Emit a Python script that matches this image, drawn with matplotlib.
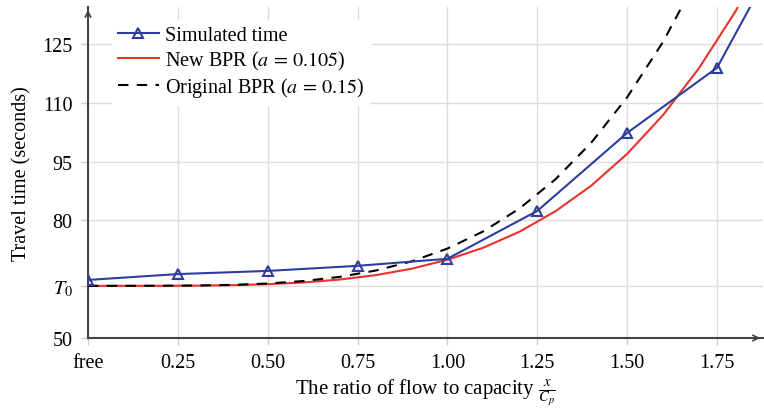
import matplotlib
matplotlib.use("Agg")
import matplotlib.pyplot as plt

plt.rcParams['font.family'] = ['Liberation Serif', 'DejaVu Serif']
plt.rcParams['mathtext.fontset'] = 'stix'

T0 = 63.3
# x ticks and labels
xticks = [0, 0.25, 0.5, 0.75, 1.0, 1.25, 1.5, 1.75]
xticklabels = ['free', '0.25', '0.50', '0.75', '1.00', '1.25', '1.50', '1.75']
yticks = [50, T0, 80, 95, 110, 125]
yticklabels = ['50', r'$T_0$', '80', '95', '110', '125']

# Simulated time
sim_x = [0, 0.25, 0.5, 0.75, 1.0, 1.25, 1.5, 1.75, 2.0]
sim_y = [64.8, 66.3, 67.1, 68.4, 70.2, 82.4, 102.3, 118.9, 161.0]

# New BPR (a = 0.105)
bpr_x = [0, 0.1, 0.2, 0.3, 0.4, 0.5, 0.6, 0.7, 0.8, 0.9, 1.0,
         1.1, 1.2, 1.3, 1.4, 1.5, 1.6, 1.7, 1.8, 1.9]
new_y = [63.3, 63.3, 63.31, 63.35, 63.47, 63.72, 64.16, 64.90, 66.02, 67.66, 69.95,
         73.03, 77.08, 82.28, 88.83, 96.95, 106.86, 118.81, 133.07, 149.92]

# Original BPR (a = 0.15)
orig_x = [0, 0.1, 0.2, 0.3, 0.4, 0.5, 0.6, 0.7, 0.8, 0.9, 1.0,
          1.1, 1.2, 1.3, 1.4, 1.5, 1.6, 1.7]
orig_y = [63.3, 63.3, 63.32, 63.38, 63.54, 63.89, 64.53, 65.58, 67.19, 69.53, 72.80,
          77.20, 82.99, 90.42, 99.78, 111.37, 125.53, 142.60]

fig = plt.figure(figsize=(7.64, 4.10), dpi=100)
ax = fig.add_axes([88/764, 1 - 339/410, (763 - 88)/764, (339 - 8)/410])

blue = '#2e3c9e'
red = '#e8322b'

ax.plot(sim_x, sim_y, color=blue, lw=1.5, marker='^', ms=7, mfc='none',
        mec=blue, mew=1.5, label='Simulated time', zorder=4)
ax.plot(bpr_x, new_y, color=red, lw=1.5, label=r'New BPR ($a\,=\,0.105$)', zorder=3)
ax.plot(orig_x, orig_y, color='black', lw=1.5, ls=(0, (5, 4)), label=r'Original BPR ($a\,=\,0.15$)', zorder=3)

ax.set_xlim(0, 1.878)
ax.set_ylim(50, 134.4)
ax.set_xticks(xticks)
ax.set_xticklabels(xticklabels)
ax.set_yticks(yticks)
ax.set_yticklabels(yticklabels)
ax.tick_params(axis='both', labelsize=14.5, color='#cccccc', length=5, width=1, pad=6)
ax.grid(True, color='#dddddd', lw=1)
ax.set_axisbelow(True)

for s in ['top', 'right']:
    ax.spines[s].set_visible(False)
for s in ['left', 'bottom']:
    ax.spines[s].set_color('#444444')
    ax.spines[s].set_linewidth(1.5)

# arrows at axis ends
ax.annotate('', xy=(1.0, 0), xytext=(0.99, 0), xycoords='axes fraction',
            arrowprops=dict(arrowstyle='->', color='#444444', lw=1.2), annotation_clip=False)
ax.annotate('', xy=(0, 1.0), xytext=(0, 0.98), xycoords='axes fraction',
            arrowprops=dict(arrowstyle='->', color='#444444', lw=1.2), annotation_clip=False)

ax.set_xlabel(r'The ratio of flow to capacity $\frac{x}{C_p}$', fontsize=15, labelpad=3)
ax.set_ylabel('Travel time (seconds)', fontsize=14.5, labelpad=8)

leg = ax.legend(loc='upper left', bbox_to_anchor=(0.021, 0.992), fontsize=14.5,
                frameon=True, framealpha=1, edgecolor='white', handlelength=2.0,
                labelspacing=0.18, handletextpad=0.3, borderpad=0.3)

fig.savefig('out.png', dpi=100)
